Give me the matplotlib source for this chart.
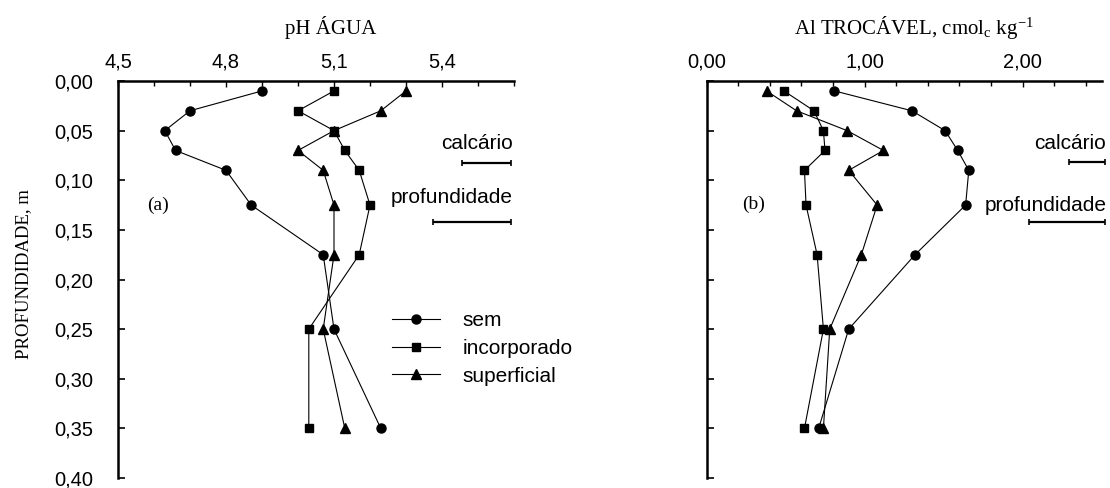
import matplotlib
matplotlib.use('Agg')
import matplotlib.pyplot as plt
from matplotlib.ticker import MultipleLocator

plt.rcParams['font.family'] = ['Liberation Sans', 'DejaVu Sans']
plt.rcParams['mathtext.fontset'] = 'custom'
plt.rcParams['mathtext.rm'] = 'Liberation Serif'
plt.rcParams['mathtext.default'] = 'rm'

# profundidade (m) de cada camada amostrada
depth = [0.01, 0.03, 0.05, 0.07, 0.09, 0.125, 0.175, 0.25, 0.35]

# pH em agua
ph_sem = [4.90, 4.70, 4.63, 4.66, 4.80, 4.87, 5.07, 5.10, 5.23]
ph_incorporado = [5.10, 5.00, 5.10, 5.13, 5.17, 5.20, 5.17, 5.03, 5.03]
ph_superficial = [5.30, 5.23, 5.10, 5.00, 5.07, 5.10, 5.10, 5.07, 5.13]

# Al trocavel (cmolc/kg)
al_sem = [0.81, 1.30, 1.51, 1.59, 1.66, 1.64, 1.32, 0.90, 0.71]
al_incorporado = [0.49, 0.68, 0.74, 0.75, 0.62, 0.63, 0.70, 0.74, 0.62]
al_superficial = [0.38, 0.57, 0.89, 1.12, 0.90, 1.08, 0.98, 0.78, 0.74]

treatments = ['sem', 'incorporado', 'superficial']

# DMS (barras) para calcario e profundidade
dms_labels = ['calcário', 'profundidade']
dms_ph = [0.137, 0.218]
dms_al = [0.23, 0.48]

depth_ticks = [0.00, 0.05, 0.10, 0.15, 0.20, 0.25, 0.30, 0.35, 0.40]
depth_labels = ['0,00', '0,05', '0,10', '0,15', '0,20', '0,25', '0,30', '0,35', '0,40']
ph_ticks = [4.5, 4.8, 5.1, 5.4]
ph_labels = ['4,5', '4,8', '5,1', '5,4']
al_ticks = [0.0, 1.0, 2.0]
al_labels = ['0,00', '1,00', '2,00']

markers = ['o', 's', '^']
msizes = [6.5, 6.0, 7.0]

fig = plt.figure(figsize=(11.1, 4.88), dpi=100)
ax1 = fig.add_axes([118 / 1110, 1 - 478 / 488, 396 / 1110, 397 / 488])
ax2 = fig.add_axes([706.5 / 1110, 1 - 478 / 488, 395 / 1110, 397 / 488])


def style_axis(ax, xlim, ticks, labels, minor, show_ylabels):
    ax.set_xlim(*xlim)
    ax.set_ylim(0.40, 0.0)
    ax.xaxis.tick_top()
    ax.set_xticks(ticks)
    ax.set_xticklabels(labels)
    ax.xaxis.set_minor_locator(MultipleLocator(minor))
    ax.set_yticks(depth_ticks)
    if show_ylabels:
        ax.set_yticklabels(depth_labels)
    else:
        ax.set_yticklabels([])
    for s in ['right', 'bottom']:
        ax.spines[s].set_visible(False)
    for s in ['left', 'top']:
        ax.spines[s].set_linewidth(1.8)
    ax.tick_params(axis='x', which='major', direction='in', length=4, width=1,
                   labelsize=14.5, pad=7)
    ax.tick_params(axis='x', which='minor', direction='in', length=3.5, width=1)
    ax.tick_params(axis='y', direction='in', length=5, width=1.2, labelsize=14.5, pad=18)


def dms_bars(ax, values, right, text_right, text_y, bar_y):
    for lab, v, ty, by in zip(dms_labels, values, text_y, bar_y):
        ax.text(text_right, ty, lab, ha='right', va='center', fontsize=15, clip_on=False)
        ax.errorbar(right - v / 2, by, xerr=v / 2, fmt='none', ecolor='black',
                    elinewidth=1.6, capsize=2.5, capthick=1.2, clip_on=False)


series_ph = [ph_sem, ph_incorporado, ph_superficial]
series_al = [al_sem, al_incorporado, al_superficial]

for vals, lab, m, ms in zip(series_ph, treatments, markers, msizes):
    ax1.plot(vals, depth, color='black', lw=0.8, marker=m, markersize=ms, label=lab,
             clip_on=False)
for vals, lab, m, ms in zip(series_al, treatments, markers, msizes):
    ax2.plot(vals, depth, color='black', lw=0.8, marker=m, markersize=ms, label=lab,
             clip_on=False)

style_axis(ax1, (4.5, 5.6), ph_ticks, ph_labels, 0.1, True)
style_axis(ax2, (0.0, 2.5), al_ticks, al_labels, 0.2, False)

ax1.text(0.538, 1.136, 'pH ÁGUA', transform=ax1.transAxes, ha='center', va='center',
         fontsize=15, family='Liberation Serif')
ax2.text(0.525, 1.136, 'Al TROCÁVEL, cmol$_\\mathregular{c}$ kg$^\\mathregular{-1}$',
         transform=ax2.transAxes, ha='center', va='center', fontsize=15,
         family='Liberation Serif')
ax1.set_ylabel('PROFUNDIDADE, m', fontsize=13.5, family='Liberation Serif')
ax1.yaxis.set_label_coords(-0.218, 0.514)

ax1.text(0.101, 0.686, '(a)', transform=ax1.transAxes, ha='center', va='center',
         fontsize=14, family='Liberation Serif')
ax2.text(0.118, 0.69, '(b)', transform=ax2.transAxes, ha='center', va='center',
         fontsize=14, family='Liberation Serif')

dms_bars(ax1, dms_ph, 5.592, 5.597, [0.0625, 0.117], [0.0826, 0.1418])
dms_bars(ax2, dms_al, 2.522, 2.53, [0.0625, 0.125], [0.0816, 0.142])

ax1.legend(loc='upper left', bbox_to_anchor=(0.692, 0.42), frameon=False,
           fontsize=15, handlelength=2.3, handletextpad=1.1, labelspacing=0.42,
           borderpad=0, borderaxespad=0)

fig.savefig('out.png', dpi=100)
